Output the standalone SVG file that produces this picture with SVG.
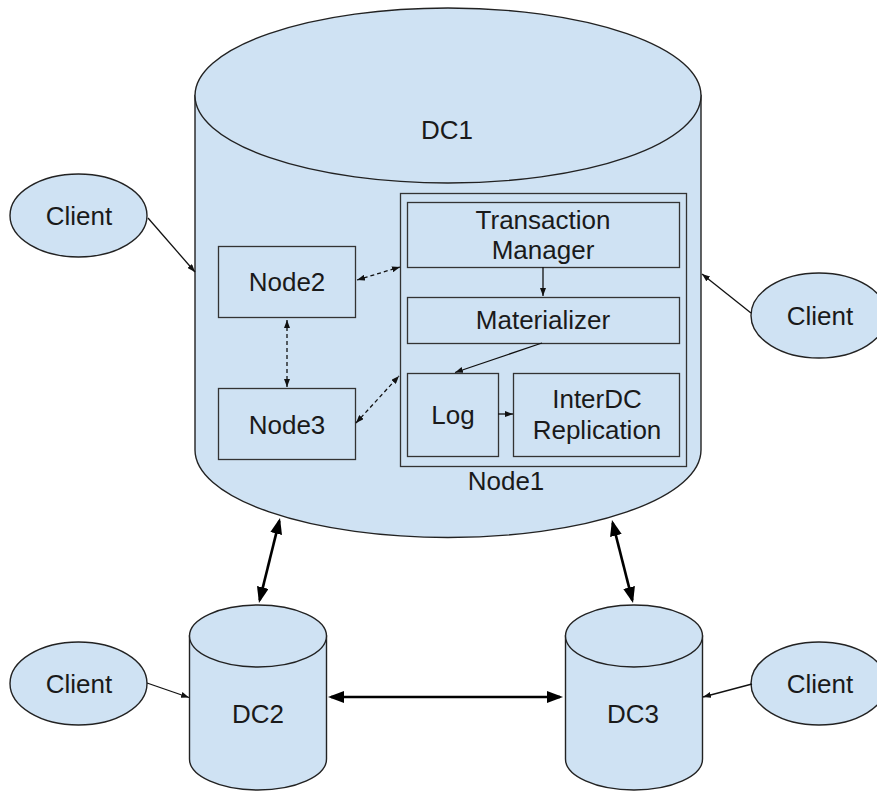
<svg xmlns="http://www.w3.org/2000/svg" width="877" height="792" viewBox="0 0 877 792">
  <style>
    .shape { fill: #cfe2f3; stroke: #222; stroke-width: 1.4; }
    .box { fill: #cfe2f3; stroke: #333; stroke-width: 1.3; }
    .lbl { font-family: "Liberation Sans", Arial, sans-serif; font-size: 26px; fill: #1a1a1a; text-anchor: middle; }
    .thin { stroke: #111; stroke-width: 1.3; fill: none; }
    .dash { stroke: #111; stroke-width: 1.3; fill: none; stroke-dasharray: 4 3; }
    .thick { stroke: #000; stroke-width: 2.6; fill: none; }
  </style>
  <defs>
    <marker id="small" markerUnits="userSpaceOnUse" markerWidth="8" markerHeight="6" refX="8" refY="3" orient="auto-start-reverse">
      <path d="M0,0 L8,3 L0,6 Z" fill="#111"/>
    </marker>
    <marker id="big" markerUnits="userSpaceOnUse" markerWidth="16" markerHeight="12" refX="13" refY="6" orient="auto-start-reverse">
      <path d="M0,0 L16,6 L0,12 Z" fill="#000"/>
    </marker>
  </defs>

  <rect width="877" height="792" fill="#fff"/>

  <!-- Data center 1 (large cylinder) -->
  <g id="dc1">
    <path class="shape" d="M195,95.5 V450 A253,87.5 0 0 0 701,450 V95.5 Z"/>
    <ellipse class="shape" cx="448" cy="95.5" rx="253" ry="87.5"/>
    <text class="lbl" x="447" y="139">DC1</text>
  </g>

  <g id="node1">
    <rect class="box" x="400.5" y="193.5" width="286" height="273"/>
    <text class="lbl" x="506" y="490">Node1</text>
  </g>
  <g id="txn-manager">
    <rect class="box" x="407.5" y="202.5" width="272" height="65"/>
    <text class="lbl" x="543" y="229">Transaction</text>
    <text class="lbl" x="543" y="259">Manager</text>
  </g>
  <g id="materializer">
    <rect class="box" x="407.5" y="297.5" width="272" height="46"/>
    <text class="lbl" x="543" y="329">Materializer</text>
  </g>
  <g id="log">
    <rect class="box" x="407.5" y="373.5" width="91" height="83"/>
    <text class="lbl" x="453" y="424">Log</text>
  </g>
  <g id="interdc">
    <rect class="box" x="513.5" y="373.5" width="166" height="83"/>
    <text class="lbl" x="597" y="408">InterDC</text>
    <text class="lbl" x="597" y="439">Replication</text>
  </g>
  <g id="node2">
    <rect class="box" x="218.5" y="246.5" width="137" height="71"/>
    <text class="lbl" x="287" y="291">Node2</text>
  </g>
  <g id="node3">
    <rect class="box" x="218.5" y="388.5" width="137" height="71"/>
    <text class="lbl" x="287" y="434">Node3</text>
  </g>

  <!-- Data centers 2 and 3 -->
  <g id="dc2">
    <path class="shape" d="M189.5,636 V759 A68.5,31 0 0 0 326.5,759 V636 Z"/>
    <ellipse class="shape" cx="258" cy="636" rx="68.5" ry="31"/>
    <text class="lbl" x="258" y="723">DC2</text>
  </g>
  <g id="dc3">
    <path class="shape" d="M565.5,636 V759 A68.5,31 0 0 0 702.5,759 V636 Z"/>
    <ellipse class="shape" cx="634" cy="636" rx="68.5" ry="31"/>
    <text class="lbl" x="633" y="723">DC3</text>
  </g>

  <!-- Clients -->
  <g id="client-dc1-left">
    <ellipse class="shape" cx="78.5" cy="215.5" rx="68.5" ry="41.5"/>
    <text class="lbl" x="79" y="225">Client</text>
  </g>
  <g id="client-dc1-right">
    <ellipse class="shape" cx="819" cy="315.5" rx="68" ry="42.5"/>
    <text class="lbl" x="820" y="325">Client</text>
  </g>
  <g id="client-dc2">
    <ellipse class="shape" cx="78.5" cy="683.5" rx="68.5" ry="41.5"/>
    <text class="lbl" x="79" y="693">Client</text>
  </g>
  <g id="client-dc3">
    <ellipse class="shape" cx="819" cy="683.5" rx="68" ry="41.5"/>
    <text class="lbl" x="820" y="693">Client</text>
  </g>

  <!-- Connectors -->
  <g id="connectors">
    <!-- clients to data centers -->
    <line class="thin" x1="148" y1="218" x2="195" y2="272" marker-end="url(#small)"/>
    <line class="thin" x1="751" y1="313" x2="702" y2="274" marker-end="url(#small)"/>
    <line class="thin" x1="147" y1="683" x2="189" y2="697.5" marker-end="url(#small)"/>
    <line class="thin" x1="752" y1="684" x2="703" y2="697" marker-end="url(#small)"/>

    <!-- inside Node1 -->
    <line class="thin" x1="543" y1="267" x2="543" y2="296" marker-end="url(#small)"/>
    <line class="thin" x1="542" y1="343" x2="455" y2="372.5" marker-end="url(#small)"/>
    <line class="thin" x1="498" y1="414" x2="513" y2="414" marker-end="url(#small)"/>

    <!-- node to node (dashed, both ways) -->
    <line class="dash" x1="357" y1="280" x2="400" y2="267" marker-start="url(#small)" marker-end="url(#small)"/>
    <line class="dash" x1="287" y1="320" x2="287" y2="387" marker-start="url(#small)" marker-end="url(#small)"/>
    <line class="dash" x1="356" y1="423" x2="399" y2="376" marker-start="url(#small)" marker-end="url(#small)"/>

    <!-- inter-DC links -->
    <line class="thick" x1="279.3" y1="520.9" x2="259.7" y2="600.1" marker-start="url(#big)" marker-end="url(#big)"/>
    <line class="thick" x1="612.7" y1="522.9" x2="632.3" y2="600.1" marker-start="url(#big)" marker-end="url(#big)"/>
    <line class="thick" x1="331" y1="697" x2="560" y2="697" marker-start="url(#big)" marker-end="url(#big)"/>
  </g>
</svg>
